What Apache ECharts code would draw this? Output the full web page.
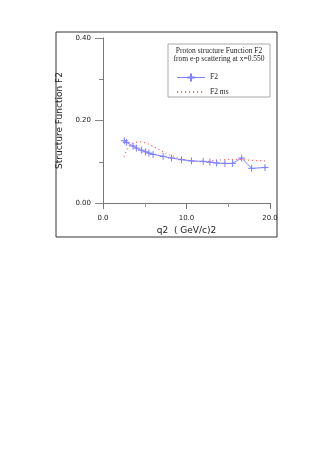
<!DOCTYPE html>
<html lang="en">
<head>
    <meta charset="UTF-8">
    <title>Proton structure Function F2</title>
    <style>
        html, body { margin: 0; padding: 0; background: #fff; }
    </style>
</head>
<body>
    <div id="chart-box" style="width:332px; height:476px"></div>

    <script src="https://cdn.jsdelivr.net/npm/echarts@6/dist/echarts.min.js"></script>
    <script>
        // measured F2 points (q2, F2)
        const q2 = [2.55, 2.8, 3.6, 4.0, 4.6, 5.1, 5.5, 6.0, 7.2, 8.2, 9.4, 10.6, 12.0, 12.8, 13.6, 14.6, 15.5, 16.6, 17.8, 19.4];
        const f2 = [0.151, 0.147, 0.138, 0.133, 0.128, 0.124, 0.121, 0.118, 0.113, 0.109, 0.105, 0.102, 0.101, 0.099, 0.097, 0.096, 0.096, 0.109, 0.084, 0.086];
        const f2Err = [0.003, 0.003, 0.003, 0.002, 0.002, 0.002, 0.002, 0.002, 0.002, 0.002, 0.002, 0.002, 0.002, 0.002, 0.002, 0.002, 0.002, 0.003, 0.003, 0.003];

        // model curve "F2 ms"
        const msQ2 = [2.5, 2.8, 3.2, 4.0, 4.6, 5.2, 5.8, 6.4, 7.0, 7.8, 8.6, 9.4, 10.4, 12.0, 13.0, 14.4, 16.0, 17.4, 19.4];
        const msF2 = [0.112, 0.127, 0.140, 0.147, 0.148, 0.145, 0.139, 0.133, 0.126, 0.118, 0.112, 0.106, 0.103, 0.100, 0.102, 0.105, 0.106, 0.104, 0.102];

        const titleLines = ['Proton structure Function F2', 'from e-p scattering at x=0.550'];

        const chart = echarts.init(document.querySelector('#chart-box'));

        const crossPath = 'path://M5,0L5,10M0,5L10,5';

        chart.setOption({
            animation: false,
            grid: { left: 103, right: 62, top: 38, bottom: 273 },
            xAxis: {
                type: 'value',
                min: 0, max: 20, interval: 10,
                name: 'q2  ( GeV/c)2',
                nameLocation: 'middle',
                nameGap: 23,
                nameTextStyle: { color: '#222', fontSize: 9, fontFamily: 'DejaVu Sans' },
                axisLine: { lineStyle: { color: '#777', width: 1 } },
                axisTick: { inside: false, length: 6, lineStyle: { color: '#777' } },
                minorTick: { show: true, splitNumber: 2, length: 4, lineStyle: { color: '#999' } },
                axisLabel: {
                    margin: 12, color: '#222', fontSize: 7, fontFamily: 'DejaVu Sans',
                    formatter: v => v.toFixed(1)
                },
                splitLine: { show: false }
            },
            yAxis: {
                type: 'value',
                min: 0, max: 0.4, interval: 0.2,
                name: 'Structure Function F2',
                nameLocation: 'middle',
                nameGap: 36,
                nameTextStyle: { color: '#222', fontSize: 9, fontFamily: 'DejaVu Sans' },
                axisLine: { lineStyle: { color: '#777', width: 1 } },
                axisTick: { length: 8, lineStyle: { color: '#888' } },
                minorTick: { show: true, splitNumber: 2, length: 4, lineStyle: { color: '#888' } },
                axisLabel: {
                    margin: 12, color: '#222', fontSize: 7, fontFamily: 'DejaVu Sans',
                    formatter: v => v.toFixed(2)
                },
                splitLine: { show: false }
            },
            legend: {
                orient: 'vertical',
                left: 171, top: 66,
                itemWidth: 28, itemHeight: 10, itemGap: 4,
                textStyle: { color: '#222', fontSize: 7.5, fontFamily: 'Liberation Serif' },
                data: [
                    { name: 'F2', lineStyle: { width: 1 } },
                    { name: 'F2 ms', itemStyle: { opacity: 0 } }
                ]
            },
            graphic: [
                {   // outer frame
                    type: 'rect', silent: true, z: 0,
                    shape: { x: 56, y: 32, width: 221, height: 205 },
                    style: { fill: 'none', stroke: '#333', lineWidth: 1 }
                },
                {   // legend frame
                    type: 'rect', silent: true, z: 0,
                    shape: { x: 168, y: 44, width: 102, height: 53 },
                    style: { fill: '#fff', stroke: '#aaa', lineWidth: 1 }
                },
                {
                    type: 'text', x: 219, y: 47, silent: true, z: 10,
                    style: {
                        text: titleLines.join('\n'),
                        align: 'center', verticalAlign: 'top',
                        fill: '#222', fontSize: 7.5, lineHeight: 8,
                        fontFamily: 'Liberation Serif'
                    }
                }
            ],
            series: [
                {
                    name: 'F2 ms',
                    type: 'line',
                    smooth: 0.4,
                    showSymbol: false,
                    symbol: 'circle',
                    lineStyle: { color: '#ff6f6f', width: 1.2, type: [1.2, 2.8] },
                    itemStyle: { color: '#ff6f6f' },
                    data: msQ2.map((x, i) => [x, msF2[i]]),
                    z: 2
                },
                {
                    name: 'F2',
                    type: 'line',
                    symbol: crossPath,
                    symbolSize: 7,
                    lineStyle: { color: '#8080ff', width: 1 },
                    itemStyle: { color: 'none', borderColor: '#8080ff', borderWidth: 1 },
                    data: q2.map((x, i) => [x, f2[i]]),
                    z: 3
                },
                {
                    name: 'F2 err',
                    type: 'custom',
                    silent: true,
                    renderItem: (params, api) => {
                        const lo = api.coord([api.value(0), api.value(1) - api.value(2)]);
                        const hi = api.coord([api.value(0), api.value(1) + api.value(2)]);
                        return {
                            type: 'line',
                            shape: { x1: lo[0], y1: lo[1], x2: hi[0], y2: hi[1] },
                            style: { stroke: '#8080ff', lineWidth: 1 }
                        };
                    },
                    data: q2.map((x, i) => [x, f2[i], f2Err[i]]),
                    z: 3
                }
            ]
        });
    </script>
</body>
</html>
